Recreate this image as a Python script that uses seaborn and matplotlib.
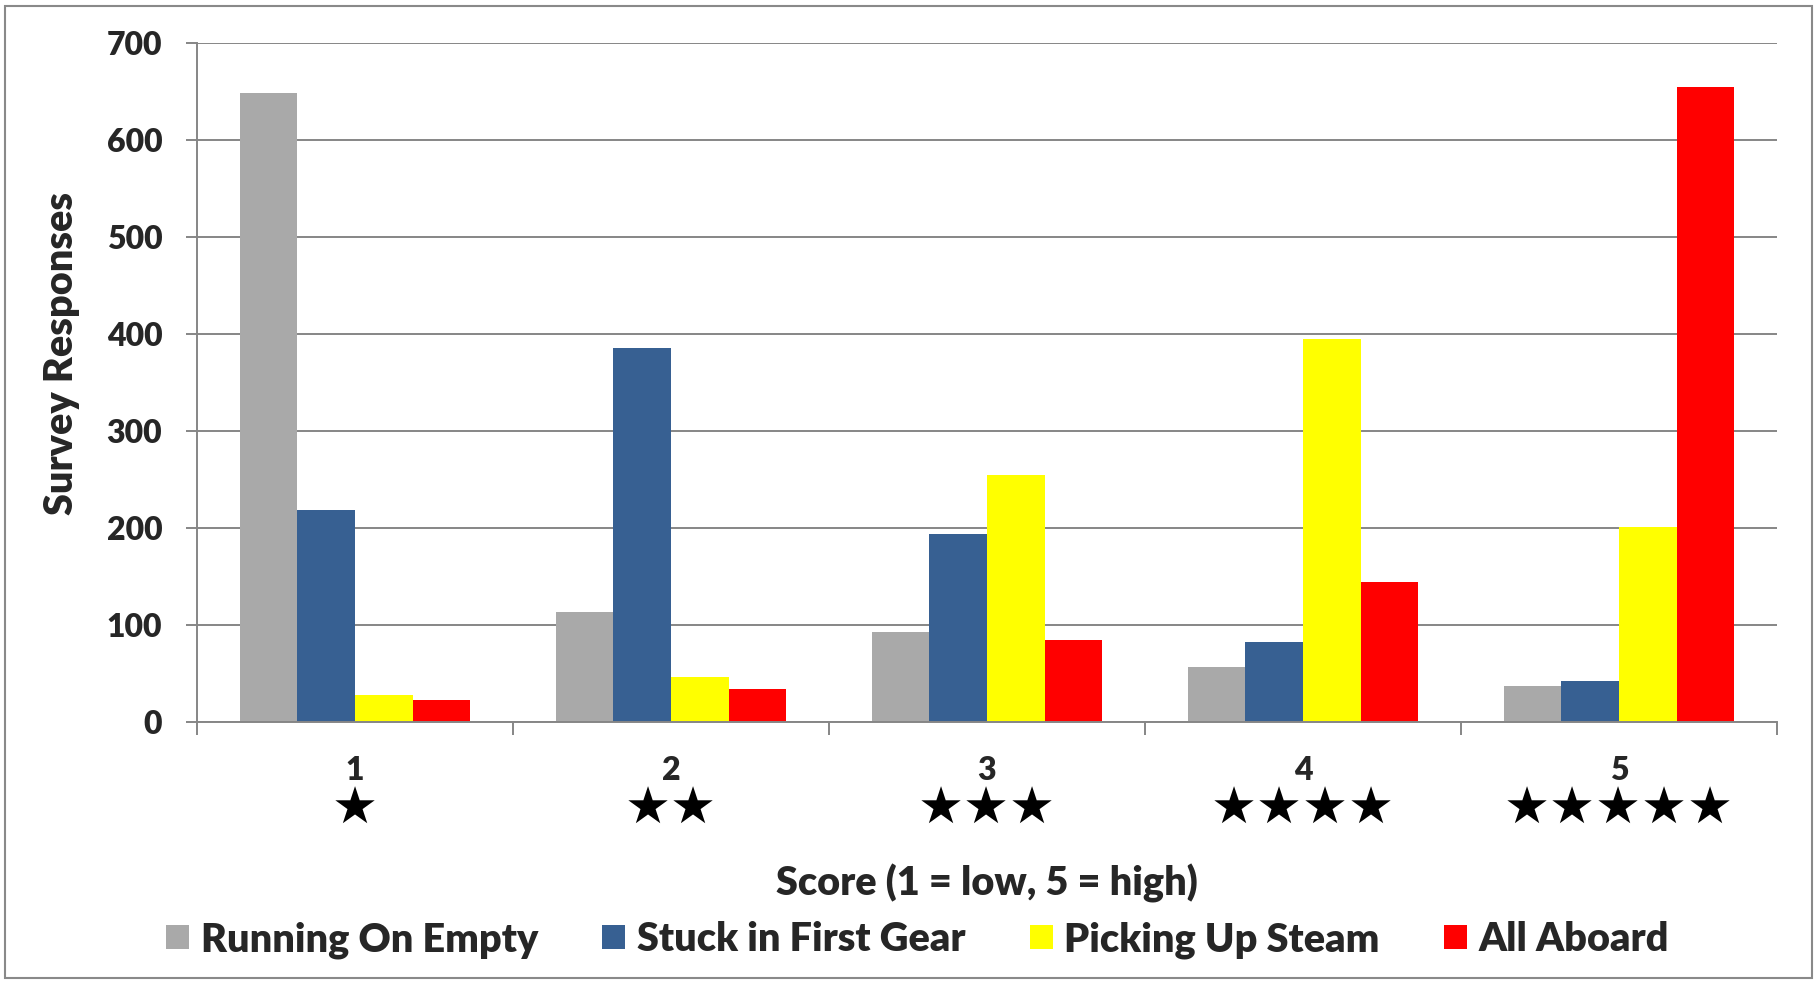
import numpy as np
import pandas as pd
import matplotlib
matplotlib.use("Agg")
import matplotlib.pyplot as plt
import matplotlib.transforms as mtransforms
from matplotlib.patches import Rectangle
import seaborn as sns

# Data
scores = ["1", "2", "3", "4", "5"]
stars = ["★", "★★", "★★★", "★★★★", "★★★★★"]
series = ["Running On Empty", "Stuck in First Gear", "Picking Up Steam", "All Aboard"]
running_on_empty = [648, 113, 92, 56, 37]
stuck_in_first_gear = [218, 385, 194, 82, 42]
picking_up_steam = [27, 46, 254, 395, 201]
all_aboard = [22, 34, 84, 144, 655]
colors = ["#A9A9A9", "#376092", "#FFFF00", "#FF0000"]

df = pd.DataFrame({
    "score": scores * 4,
    "group": np.repeat(series, len(scores)),
    "value": running_on_empty + stuck_in_first_gear + picking_up_steam + all_aboard,
})

sns.set_style("white")
plt.rcParams["font.family"] = ["Lato", "DejaVu Sans"]
W = "heavy"
plt.rcParams["font.weight"] = W

grid_col = "#868686"
fig = plt.figure(figsize=(18.17, 9.81), dpi=100)
ax = fig.add_axes([0.1084, 0.2644, 0.978 - 0.1084, 0.9563 - 0.2644])

sns.barplot(data=df, x="score", y="value", hue="group", hue_order=series,
            palette=dict(zip(series, colors)), saturation=1, width=0.73,
            linewidth=0, legend=False, ax=ax)

ax.set_xlim(-0.5, 4.5)
ax.set_ylim(0, 700)
ax.set_yticks(range(0, 701, 100))
ax.set_axisbelow(True)
ax.yaxis.grid(True, color=grid_col, linewidth=1.4)
ax.xaxis.grid(False)

for s in ["top", "right"]:
    ax.spines[s].set_visible(False)
for s in ["left", "bottom"]:
    ax.spines[s].set_color(grid_col)
    ax.spines[s].set_linewidth(1.4)

ax.tick_params(axis="y", which="major", direction="out", length=8, width=1.4,
               color=grid_col, labelsize=23, pad=17, left=True)
ax.set_xticks(range(5))
ax.set_xticklabels(scores, fontsize=23, fontweight=W)
ax.tick_params(axis="x", which="major", length=0, pad=25)
ax.set_xticks(np.arange(-0.5, 5, 1), minor=True)
ax.tick_params(axis="x", which="minor", direction="out", length=9, width=1.4,
               color=grid_col, bottom=True)
for lab in ax.get_yticklabels():
    lab.set_fontweight(W)

# star rows under each score
trans = mtransforms.blended_transform_factory(ax.transData, ax.transAxes)
for i, st in enumerate(stars):
    ax.text(i, -0.13, st, transform=trans, ha="center", va="center",
            fontsize=37, family=["DejaVu Sans"], color="black")

ax.set_ylabel("Survey Responses", fontsize=28.5, fontweight=W)
ax.yaxis.label.set_va("center")
ax.yaxis.set_label_coords(-0.086, 0.543)
ax.set_xlabel("Score (1 = low, 5 = high)", fontsize=28.5, fontweight=W)
ax.xaxis.set_label_coords(0.5, -0.238)
ax.xaxis.label.set_va("center")

fig.legend(ax.containers, series, loc="center", bbox_to_anchor=(0.505, 0.042),
           ncol=4, frameon=False, handlelength=0.58, handleheight=0.58,
           handletextpad=0.3, columnspacing=1.62,
           prop={"weight": W, "size": 28.5})

fig.patches.append(Rectangle((0.003, 0.003), 0.994, 0.991, transform=fig.transFigure,
                             fill=False, edgecolor="#898989", linewidth=1.5))

plt.savefig("out.png", dpi=100)
